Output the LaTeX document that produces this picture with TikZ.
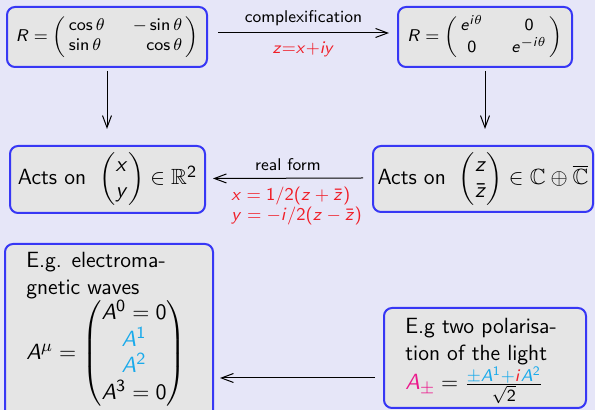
\RequirePackage{fix-cm}
\documentclass[tikz,border=0pt]{standalone}
\usepackage{amsmath,amssymb}
\usetikzlibrary{arrows.meta,calc}
\renewcommand\familydefault{\sfdefault}
\DeclareSymbolFont{operators}{OT1}{cmss}{m}{n}
\DeclareSymbolFont{sfit}{OT1}{cmss}{m}{sl}
\DeclareMathSymbol{A}{\mathalpha}{sfit}{`A}
\DeclareMathSymbol{R}{\mathalpha}{sfit}{`R}
\DeclareMathSymbol{e}{\mathalpha}{sfit}{`e}
\DeclareMathSymbol{i}{\mathalpha}{sfit}{`i}
\DeclareMathSymbol{x}{\mathalpha}{sfit}{`x}
\DeclareMathSymbol{y}{\mathalpha}{sfit}{`y}
\DeclareMathSymbol{z}{\mathalpha}{sfit}{`z}
\DeclareMathSizes{11}{11}{8.5}{6.5}
\DeclareMathSizes{8.5}{8.5}{6.5}{5}
\DeclareMathSizes{9}{9}{7}{5}
\definecolor{bgcol}{RGB}{230,230,248}
\definecolor{boxfill}{RGB}{229,229,229}
\definecolor{boxdraw}{RGB}{55,55,245}
\definecolor{lblred}{RGB}{240,30,40}
\definecolor{acyan}{RGB}{25,170,235}
\definecolor{apink}{RGB}{235,25,140}
\newcommand{\smallsz}{\fontsize{8.5}{10}\selectfont}
\newcommand{\bigsz}{\fontsize{11}{13.2}\selectfont}
\tikzset{
  blockbox/.style={draw=boxdraw, fill=boxfill, line width=1pt, rounded corners=4pt, inner sep=0pt},
  conn/.style={draw=black, line width=0.5pt, -{Straight Barb[length=6pt,width=4.5pt]}},
  lbl/.style={inner sep=0pt, font=\smallsz},
}
\begin{document}
\begin{tikzpicture}[x=0.5pt,y=-0.5pt]
\useasboundingbox (0,0) rectangle (595,410);
\fill[bgcol] (0,0) rectangle (595,410);

% top row
\node[blockbox, minimum width=100pt, minimum height=30pt, font=\smallsz] (b1) at (107,37)
  {$R = \left(\begin{array}{@{\,}l@{\hspace{14pt}}r@{\,}}\cos\theta & -\sin\theta\\ \sin\theta & \cos\theta\end{array}\right)$};
\node[blockbox, minimum width=87pt, minimum height=30pt, font=\smallsz] (b2) at (485,37)
  {$R = \left(\begin{array}{@{\,}c@{\hspace{14pt}}c@{\,}}e^{i\theta} & 0\\ 0 & e^{-i\theta}\end{array}\right)$};

% middle row
\node[blockbox, minimum width=97.5pt, minimum height=33.5pt, font=\bigsz] (b3) at (107.5,179.5)
  {Acts on\hspace{3pt} $\begin{pmatrix}x\\ y\end{pmatrix}\in\mathbb{R}^2$};
\node[blockbox, minimum width=110pt, minimum height=33pt, font=\bigsz] (b4) at (483,179)
  {Acts on\hspace{3pt} $\begin{pmatrix}z\\ \bar z\end{pmatrix}\in\mathbb{C}\oplus\overline{\mathbb{C}}$};

% bottom row
\node[blockbox, minimum width=104pt, minimum height=90pt, anchor=north west] (b5) at (4,243) {};
\node[anchor=north west, inner sep=0pt, align=left, font=\bigsz] (t5) at (26,252)
  {E.g. electroma-\\ gnetic waves\\[0pt]
   $A^\mu = \renewcommand{\arraystretch}{0.94}\begin{pmatrix}A^0=0\\ \textcolor{acyan}{A^1}\\ \textcolor{acyan}{A^2}\\ A^3=0\end{pmatrix}$};
\node[blockbox, minimum width=101pt, minimum height=50pt] (b6) at (485,358) {};
\node[anchor=north west, inner sep=0pt, align=left, font=\bigsz] (t6) at (405,318)
  {E.g two polarisa-\\ tion of the light\\
   $\textcolor{apink}{A_\pm} = \frac{\textcolor{acyan}{\pm A^1+}\textcolor{lblred}{i}\textcolor{acyan}{A^2}}{\sqrt{2}}$};

% connectors
\coordinate (s1) at ([shift={(0,3)}]b1.south);
\coordinate (e1) at ([shift={(0,-16)}]b3.north);
\coordinate (s2) at ([shift={(0,3)}]b2.south);
\coordinate (e2) at ([shift={(0,-16)}]b4.north);
\coordinate (s3) at ([shift={(-8,20)}]b6.west);
\coordinate (e3) at ([shift={(6,0)}]b5.east);
\draw[conn] ([shift={(10,-4)}]b1.east) -- ([shift={(-8,-4)}]b2.west)
  node[lbl, midway, above=3.5pt] (l1) {complexification}
  node[lbl, midway, below=4pt, text=lblred] (l2) {$z{=}x{+}iy$};
\draw[conn] (s1) -- (e1 -| s1);
\draw[conn] (s2) -- (e2 -| s2);
\draw[conn] ([shift={(-9,-1)}]b4.west) -- ([shift={(7,-1)}]b3.east)
  node[lbl, midway, above=3.5pt] (l3) {real form};
\node[anchor=north west, inner sep=0pt, align=left, text=lblred, font=\fontsize{9}{8}\selectfont] (l4) at (231,187)
  {$x = 1/2(z+\bar z)$\\ $y = -i/2(z-\bar z)$};
\draw[conn] (s3) -- (e3 |- s3);
\end{tikzpicture}
\end{document}
